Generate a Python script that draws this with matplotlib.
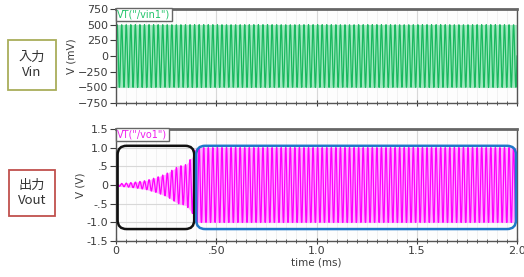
import numpy as np
import matplotlib.pyplot as plt
from matplotlib.patches import FancyBboxPatch
from matplotlib.transforms import IdentityTransform
from matplotlib.ticker import MultipleLocator

# data
freq_khz = 44.0                 # carrier frequency of vin1 / vo1
vin_amp_mv = 500.0              # input amplitude
env_t = [0.0, 0.05, 0.10, 0.15, 0.20, 0.25, 0.28, 0.31, 0.35, 0.38, 0.40, 2.0]   # ms
env_amp = [0.03, 0.05, 0.08, 0.12, 0.20, 0.30, 0.40, 0.50, 0.55, 0.75, 1.05, 1.05]
clip_v = [-1.0, 1.0]
top_ticks = [-750, -500, -250, 0, 250, 500, 750]
bot_ticks = [-1.5, -1.0, -0.5, 0, 0.5, 1.0, 1.5]
bot_labels = ["-1.5", "-1.0", "-.5", "0", ".5", "1.0", "1.5"]
x_ticks = [0, 0.5, 1.0, 1.5, 2.0]
x_labels = ["0", ".50", "1.0", "1.5", "2.0"]

t = np.linspace(0, 2.0, 3000)
carrier = np.sin(2 * np.pi * freq_khz * t)
vin = vin_amp_mv * carrier
env = np.interp(t, env_t, env_amp)
vout = np.clip(env * carrier, clip_v[0], clip_v[1])

fig = plt.figure(figsize=(5.24, 2.77), dpi=100)
ax1 = fig.add_axes([116/524, 1 - 103/277, 401/524, 94/277])
ax2 = fig.add_axes([116/524, 1 - 241/277, 401/524, 112/277])

tick_col = "#3c3c3c"
for ax in (ax1, ax2):
    ax.set_facecolor("#fdfdfd")
    ax.set_xlim(0, 2.0)
    ax.xaxis.set_major_locator(MultipleLocator(0.5))
    ax.xaxis.set_minor_locator(MultipleLocator(0.05))
    ax.grid(True, which="major", color="#d8d8d8", lw=0.8)
    ax.grid(True, which="minor", color="#ececec", lw=0.5)
    ax.tick_params(which="both", colors=tick_col, labelsize=8)
    ax.tick_params(axis="y", which="both", direction="out")
    ax.tick_params(axis="x", which="both", direction="inout")
    ax.tick_params(which="major", length=4, width=0.8, pad=1.5)
    ax.tick_params(which="minor", length=2.5, width=0.6)
    for s in ax.spines.values():
        s.set_color("#555555")
        s.set_linewidth(1.0)
    ax.spines["top"].set_linewidth(2.0)
    ax.spines["top"].set_color("#666666")
    ax.set_axisbelow(True)

# input panel
ax1.fill_between(t, -vin_amp_mv, vin_amp_mv, color="#9fe8bf", lw=0)
ax1.plot(t, vin, color="#19b85e", lw=0.9)
ax1.set_ylim(-750, 750)
ax1.set_yticks(top_ticks)
ax1.set_ylabel("V (mV)", fontsize=7.5, color=tick_col, labelpad=1)
ax1.tick_params(axis="x", labelbottom=False)
ax1.text(0.003, 0.995, 'VT("/vin1")', transform=ax1.transAxes, fontsize=7,
         color="#22c46a", va="top", ha="left",
         bbox=dict(boxstyle="square,pad=0.15", fc="white", ec="#666666", lw=1.0))

# output panel
band = np.minimum(env, clip_v[1])
ax2.fill_between(t, -band, band, color="#ffb0ff", lw=0)
ax2.plot(t, vout, color="#ff00ff", lw=0.9)
ax2.set_ylim(-1.5, 1.5)
ax2.set_yticks(bot_ticks)
ax2.set_yticklabels(bot_labels)
ax2.set_xticks(x_ticks)
ax2.set_xticklabels(x_labels)
ax2.set_ylabel("V (V)", fontsize=7.5, color=tick_col, labelpad=1)
ax2.set_xlabel("time (ms)", fontsize=7.5, color=tick_col, labelpad=1)
ax2.text(0.003, 0.995, 'VT("/vo1")', transform=ax2.transAxes, fontsize=7,
         color="#ee22ee", va="top", ha="left",
         bbox=dict(boxstyle="square,pad=0.15", fc="white", ec="#666666", lw=1.0))

# rounded highlight boxes (transient / steady state)
fig.canvas.draw()
def round_box(x0, x1, y0, y1, col):
    (px0, py0), (px1, py1) = ax2.transData.transform([(x0, y0), (x1, y1)])
    p = FancyBboxPatch((px0, py0), px1 - px0, py1 - py0,
                       boxstyle="round,pad=0,rounding_size=9",
                       transform=IdentityTransform(), fc="none", ec=col,
                       lw=1.8, clip_on=False, zorder=5)
    fig.add_artist(p)

round_box(0.008, 0.39, -1.18, 1.05, "#111111")
round_box(0.40, 1.995, -1.18, 1.05, "#1f78c8")

# side labels
fig.text(32/524, 1 - 65/277, "入力\nVin", ha="center", va="center", fontsize=9.5,
         color="#333333", linespacing=1.25,
         family=["Noto Sans CJK JP", "DejaVu Sans"],
         bbox=dict(boxstyle="square,pad=0.8", fc="white", ec="#a9ae5a", lw=1.3))
fig.text(32/524, 1 - 193/277, "出力\nVout", ha="center", va="center", fontsize=9.5,
         color="#333333", linespacing=1.25,
         family=["Noto Sans CJK JP", "DejaVu Sans"],
         bbox=dict(boxstyle="square,pad=0.7", fc="white", ec="#c0504d", lw=1.3))

fig.savefig("out.png", dpi=100)
